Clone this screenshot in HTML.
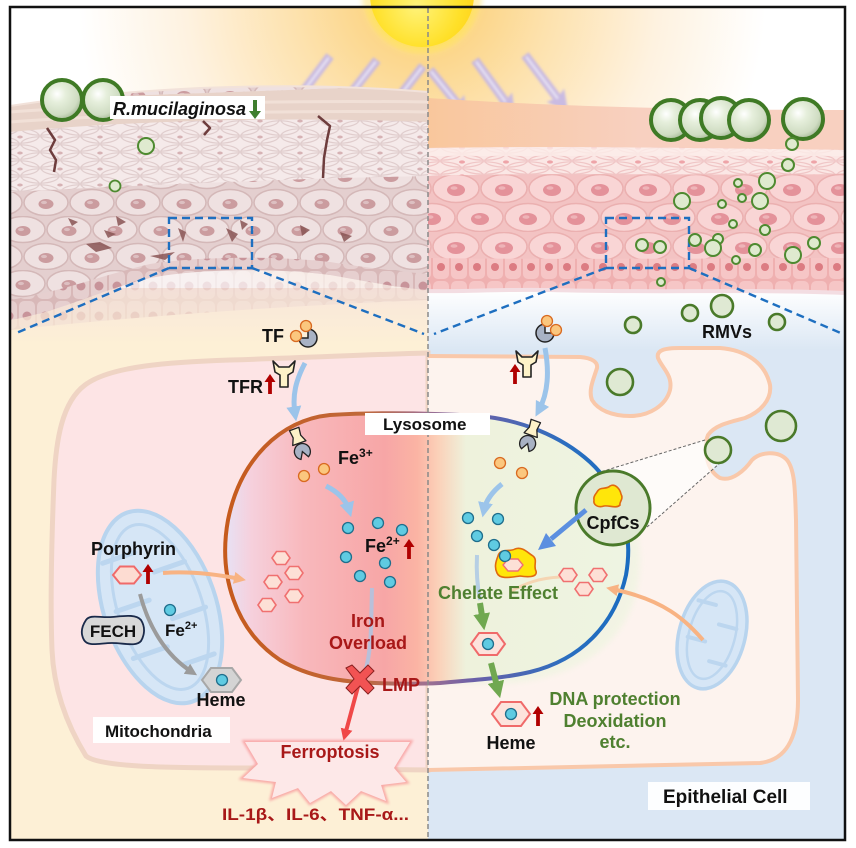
<!DOCTYPE html>
<html><head><meta charset="utf-8"><style>
html,body{margin:0;padding:0;background:#fff;}
svg{display:block;}
text{font-family:"Liberation Sans","Noto Sans CJK SC",sans-serif;font-weight:bold;}
</style></head><body>
<svg width="856" height="848" viewBox="0 0 856 848" xmlns="http://www.w3.org/2000/svg">
<defs>
<radialGradient id="glow" cx="422" cy="-5" r="430" gradientUnits="userSpaceOnUse">
<stop offset="0" stop-color="#ffd21e"/><stop offset="0.12" stop-color="#ffd93a"/><stop offset="0.14" stop-color="#fcd68a"/><stop offset="0.3" stop-color="#fde2ae"/><stop offset="0.55" stop-color="#fef2e0"/><stop offset="0.8" stop-color="#ffffff"/>
</radialGradient>
<radialGradient id="sun" cx="0.45" cy="0.6" r="0.6"><stop offset="0" stop-color="#fff37a"/><stop offset="0.7" stop-color="#ffe028"/><stop offset="1" stop-color="#ffd21a"/></radialGradient>
<radialGradient id="ball" cx="0.38" cy="0.35" r="0.7"><stop offset="0" stop-color="#ffffff"/><stop offset="0.3" stop-color="#e6efdc"/><stop offset="0.75" stop-color="#cfdcc2"/><stop offset="1" stop-color="#9fb390"/></radialGradient>
<linearGradient id="bandR" x1="428" y1="0" x2="640" y2="0" gradientUnits="userSpaceOnUse"><stop offset="0" stop-color="#f9c79c"/><stop offset="1" stop-color="#f8d0c0"/></linearGradient>
<linearGradient id="bgR" x1="0" y1="290" x2="0" y2="350" gradientUnits="userSpaceOnUse"><stop offset="0" stop-color="#ffffff"/><stop offset="1" stop-color="#dbe7f4"/></linearGradient>
<linearGradient id="bgL" x1="0" y1="290" x2="0" y2="345" gradientUnits="userSpaceOnUse"><stop offset="0" stop-color="#f8e6da"/><stop offset="1" stop-color="#fdf0d6"/></linearGradient>
<linearGradient id="lysoFill" x1="223" y1="0" x2="628" y2="0" gradientUnits="userSpaceOnUse">
<stop offset="0" stop-color="#e6e3f7"/><stop offset="0.07" stop-color="#f6d0dc"/><stop offset="0.2" stop-color="#f8b8bc"/><stop offset="0.4" stop-color="#f7a6a6"/><stop offset="0.48" stop-color="#fbb4a4"/><stop offset="0.53" stop-color="#fbd0b8"/><stop offset="0.6" stop-color="#eef2dc"/><stop offset="1" stop-color="#eef4e2"/>
</linearGradient>
<linearGradient id="lysoStroke" x1="223" y1="0" x2="628" y2="0" gradientUnits="userSpaceOnUse">
<stop offset="0" stop-color="#c65a1c"/><stop offset="0.35" stop-color="#c0683a"/><stop offset="0.5" stop-color="#a07090"/><stop offset="0.62" stop-color="#6a60a8"/><stop offset="0.85" stop-color="#2a6ec0"/><stop offset="1" stop-color="#1a6cc0"/>
</linearGradient>
<pattern id="pL1" width="40" height="16" patternUnits="userSpaceOnUse">
<rect width="40" height="16" fill="#f5eaea"/>
<g fill="none" stroke="#e0cdcd" stroke-width="1.2">
<ellipse cx="20" cy="8" rx="19" ry="7.2"/><ellipse cx="0" cy="0" rx="19" ry="7.2"/><ellipse cx="40" cy="0" rx="19" ry="7.2"/><ellipse cx="0" cy="16" rx="19" ry="7.2"/><ellipse cx="40" cy="16" rx="19" ry="7.2"/>
</g>
<ellipse cx="20" cy="9" rx="2.8" ry="1.5" fill="#d6b2b4"/>
</pattern>
<pattern id="pL2" width="46" height="54" patternUnits="userSpaceOnUse">
<rect width="46" height="54" fill="#e4cfcf"/>
<g fill="#efe1e1" stroke="#d4b8b8" stroke-width="1.5">
<ellipse cx="23" cy="13.5" rx="22" ry="13"/><ellipse cx="0" cy="40.5" rx="22" ry="13"/><ellipse cx="46" cy="40.5" rx="22" ry="13"/>
</g>
<g fill="#cb9c9f"><ellipse cx="23" cy="15" rx="7.5" ry="5"/><ellipse cx="0" cy="42" rx="7.5" ry="5"/><ellipse cx="46" cy="42" rx="7.5" ry="5"/></g>
<g fill="#ddbfc1"><ellipse cx="21" cy="13.5" rx="3" ry="1.6"/><ellipse cx="-2" cy="40.5" rx="3" ry="1.6"/><ellipse cx="44" cy="40.5" rx="3" ry="1.6"/></g>
</pattern>
<pattern id="pL3" width="18" height="30" patternUnits="userSpaceOnUse">
<rect width="18" height="30" fill="#d8b8b8"/><rect x="1" y="1" width="16" height="28" rx="5" fill="#e6cfcf"/><circle cx="9" cy="16" r="4.5" fill="#c8949a"/>
</pattern>
<pattern id="pR1" width="44" height="14" patternUnits="userSpaceOnUse">
<rect width="44" height="14" fill="#fbe7e5"/>
<g fill="none" stroke="#f0c6c6" stroke-width="1.2">
<ellipse cx="22" cy="7" rx="21" ry="6.2"/><ellipse cx="0" cy="0" rx="21" ry="6.2"/><ellipse cx="44" cy="0" rx="21" ry="6.2"/><ellipse cx="0" cy="14" rx="21" ry="6.2"/><ellipse cx="44" cy="14" rx="21" ry="6.2"/>
</g>
<ellipse cx="22" cy="8" rx="3" ry="1.6" fill="#eea4a8"/>
</pattern>
<pattern id="pR2" width="48" height="58" patternUnits="userSpaceOnUse">
<rect width="48" height="58" fill="#f3c3c3"/>
<g fill="#f9d5d5" stroke="#ebb0b0" stroke-width="1.5">
<ellipse cx="24" cy="14.5" rx="23" ry="14"/><ellipse cx="0" cy="43.5" rx="23" ry="14"/><ellipse cx="48" cy="43.5" rx="23" ry="14"/>
</g>
<g fill="#e4929a"><ellipse cx="24" cy="16" rx="9" ry="6"/><ellipse cx="0" cy="45" rx="9" ry="6"/><ellipse cx="48" cy="45" rx="9" ry="6"/></g>
<g fill="#eeb4b8"><ellipse cx="22" cy="14" rx="3.5" ry="1.8"/><ellipse cx="-2" cy="43" rx="3.5" ry="1.8"/><ellipse cx="46" cy="43" rx="3.5" ry="1.8"/></g>
</pattern>
<pattern id="pR3" width="18" height="28" patternUnits="userSpaceOnUse">
<rect width="18" height="28" fill="#efb0b0"/><rect x="1" y="1" width="16" height="26" rx="5" fill="#f6c6c6"/><circle cx="9" cy="15" r="4" fill="#dc7c82"/>
</pattern>
<clipPath id="clipL"><path d="M 10,106 C 60,98 120,92 200,88 C 300,84 380,88 428,92 L 428,290 C 400,288 370,282 330,275 C 280,268 200,268 150,278 C 100,290 60,312 10,320 Z"/></clipPath>
<clipPath id="clipLf"><path d="M 10,320 C 60,312 100,290 150,278 C 200,268 280,268 330,275 C 370,282 400,288 428,290 L 428,300 C 300,305 150,315 10,330 Z"/></clipPath>
<clipPath id="clipR"><path d="M 428,148 C 550,146 700,148 845,150 L 845,292 C 750,288 650,292 550,289 C 500,288 460,291 428,290 Z"/></clipPath>
<filter id="blur1" x="-20%" y="-20%" width="140%" height="140%"><feGaussianBlur stdDeviation="1.2"/></filter>
<filter id="blur3" x="-20%" y="-20%" width="140%" height="140%"><feGaussianBlur stdDeviation="3"/></filter>
<marker id="mB" viewBox="0 0 10 10" refX="5" refY="5" markerWidth="3" markerHeight="3" orient="auto"><path d="M0,0 L10,5 L0,10 Z" fill="#9cc4ea"/></marker>
<marker id="mO" viewBox="0 0 10 10" refX="5" refY="5" markerWidth="3" markerHeight="3" orient="auto"><path d="M0,0 L10,5 L0,10 Z" fill="#f8b383"/></marker>
<marker id="mG" viewBox="0 0 10 10" refX="5" refY="5" markerWidth="3" markerHeight="3" orient="auto"><path d="M0,0 L10,5 L0,10 Z" fill="#9b9b9b"/></marker>
<marker id="mGr" viewBox="0 0 10 10" refX="5" refY="5" markerWidth="2.8" markerHeight="2.8" orient="auto"><path d="M0,0 L10,5 L0,10 Z" fill="#70a850"/></marker>
<marker id="mR" viewBox="0 0 10 10" refX="5" refY="5" markerWidth="3" markerHeight="3" orient="auto"><path d="M0,0 L10,5 L0,10 Z" fill="#f04848"/></marker>
<circle id="fe" r="5.5" fill="#5fcbe2" stroke="#1f6e8c" stroke-width="1.3"/>
<circle id="fo" r="5.5" fill="#fbc77e" stroke="#d96a20" stroke-width="1.3"/>
<polygon id="hx" points="-9,0 -4.5,-6.5 4.5,-6.5 9,0 4.5,6.5 -4.5,6.5" fill="#fde0d6" stroke="#f07070" stroke-width="1.6"/>
<path id="ra" d="M -1.9,0 L -1.9,-12 L -5.5,-12 L 0,-20 L 5.5,-12 L 1.9,-12 L 1.9,0 Z" fill="#b00000"/>
<path id="tfr" d="M 0,1 L 6,7 L 16,7 L 22,1 L 20,12 L 15,15 L 15,27 L 7,27 L 7,15 L 2,12 Z" fill="#fdf2c8" stroke="#222" stroke-width="1.6" stroke-linejoin="round"/>
<g id="rec">
<path d="M -5,-17 L 5,-17 L 4,-9 L 7,-2 L -7,-2 L -4,-9 Z" fill="#fdf2c8" stroke="#222" stroke-width="1.3" stroke-linejoin="round"/>
<path d="M 0,7 L 4,13.9 A 8 8 0 1 0 -4,13.9 Z" fill="#a8b2c4" stroke="#222" stroke-width="1.3"/>
</g>
<g id="arw"><path d="M -4.5,0 L 4.5,0 L 4.5,50 L 11,48 L 0,68 L -11,48 L -4.5,50 Z" fill="#c3b6e6" opacity="0.9"/><path d="M 0,2 L 0,52" stroke="#ece8f7" stroke-width="2"/></g>
</defs>

<!-- sky / glow -->
<rect x="0" y="0" width="856" height="848" fill="#fff"/>
<rect x="10" y="7" width="835" height="300" fill="url(#glow)"/>
<circle cx="422" cy="-5" r="60" fill="#ffe680" opacity="0.6" filter="url(#blur3)"/>
<circle cx="422" cy="-5" r="52" fill="url(#sun)"/>

<!-- lower backgrounds -->
<rect x="10" y="288" width="418" height="552" fill="url(#bgL)"/>
<rect x="428" y="288" width="417" height="552" fill="url(#bgR)"/>

<!-- sun arrows -->
<g filter="url(#blur1)">
<use href="#arw" transform="translate(330,56) rotate(37) scale(1,1.1)"/>
<use href="#arw" transform="translate(377,60) rotate(38)"/>
<use href="#arw" transform="translate(423,66) rotate(38) scale(1,0.92)"/>
<use href="#arw" transform="translate(430,70) rotate(-39) scale(1,0.85)"/>
<use href="#arw" transform="translate(475,60) rotate(-36)"/>
<use href="#arw" transform="translate(525,55) rotate(-37) scale(1,1.05)"/>
</g>

<!-- LEFT SKIN faded underside -->
<g clip-path="url(#clipLf)" opacity="0.3"><rect x="10" y="260" width="418" height="80" fill="url(#pL3)"/></g>
<!-- LEFT SKIN -->
<g clip-path="url(#clipL)">
<rect x="10" y="80" width="418" height="240" fill="url(#pL2)"/>
<path d="M 10,100 L 428,85 L 428,176 C 330,178 200,182 10,192 Z" fill="url(#pL1)"/>
<path d="M 10,100 L 428,85 L 428,122 C 300,117 150,119 10,132 Z" fill="#e8d3c9"/>
<path d="M 10,112 C 120,104 280,100 428,102 M 10,122 C 120,114 280,110 428,112" stroke="#f1e0d7" stroke-width="3" fill="none"/>
<path d="M 10,300 C 60,292 100,276 150,264 C 200,256 280,256 330,262 C 370,268 400,272 428,274 L 428,300 L 10,330 Z" fill="url(#pL3)"/>
</g>
<path d="M 10,106 C 60,98 120,92 200,88 C 300,84 380,88 428,92" stroke="#f2e2da" stroke-width="2" fill="none"/>
<!-- cracks -->
<g fill="none" stroke="#6e3d3d" stroke-width="2.5" stroke-linejoin="round">
<path d="M 47,128 L 55,140 L 50,150 L 56,160 L 54,172"/>
<path d="M 203,121 L 210,128 L 204,135"/>
<path d="M 318,116 L 330,126 L 327,140 L 324,158 L 323,178"/>
</g>
<g fill="#8a5555" opacity="0.85">
<path d="M 86,244 L 100,242 L 112,248 L 96,252 Z"/><path d="M 104,230 L 116,234 L 108,238 Z"/><path d="M 68,218 L 78,222 L 72,226 Z"/><path d="M 116,216 L 126,222 L 118,226 Z"/>
<path d="M 178,228 L 186,232 L 183,242 Z"/><path d="M 226,228 L 238,234 L 232,242 Z"/><path d="M 240,220 L 248,224 L 242,230 Z"/>
<path d="M 150,256 L 175,252 L 165,260 Z"/><path d="M 300,225 L 310,230 L 302,236 Z"/><path d="M 340,232 L 352,236 L 344,242 Z"/>
</g>

<!-- RIGHT SKIN -->
<path d="M 428,98 C 520,104 650,110 845,110 L 845,152 L 428,150 Z" fill="url(#bandR)"/>
<g clip-path="url(#clipR)">
<rect x="428" y="140" width="417" height="160" fill="url(#pR2)"/>
<path d="M 428,145 L 845,145 L 845,174 C 700,176 550,172 428,176 Z" fill="url(#pR1)"/>
<path d="M 428,145 L 845,145 L 845,156 L 428,156 Z" fill="#fdeeea" opacity="0.8"/>
<path d="M 428,258 C 600,260 700,258 845,258 L 845,300 L 428,300 Z" fill="url(#pR3)"/>
</g>
<path d="M 428,291 C 460,292 500,289 550,290 C 650,293 750,289 845,293" stroke="#f3dde2" stroke-width="4" fill="none"/>

<!-- dashed zoom boxes -->
<g fill="none" stroke="#1e6fc0" stroke-width="2.4" stroke-dasharray="8,5">
<rect x="169" y="218" width="83" height="50"/>
<rect x="606" y="218" width="83" height="50"/>
<path d="M 169,268 L 14,334"/><path d="M 252,268 L 424,334"/>
<path d="M 606,268 L 434,334"/><path d="M 689,268 L 843,334"/>
</g>

<!-- bacteria top left -->
<circle cx="62" cy="100" r="20" fill="url(#ball)" stroke="#3f7a25" stroke-width="4"/>
<circle cx="103" cy="100" r="20" fill="url(#ball)" stroke="#3f7a25" stroke-width="4"/>
<rect x="110" y="96" width="155" height="23" fill="#fff"/>
<text x="113" y="115" font-size="18" font-style="italic" fill="#111">R.mucilaginosa</text>
<path d="M 253,100 L 253,111 L 249,111 L 255,119 L 261,111 L 257,111 L 257,100 Z" fill="#3f7e2e"/>
<circle cx="146" cy="146" r="8" fill="#dfeacf" stroke="#4e8a30" stroke-width="2"/>
<circle cx="115" cy="186" r="5.5" fill="#dfeacf" stroke="#4e8a30" stroke-width="1.8"/>

<!-- bacteria top right -->
<g stroke="#3f7a25" stroke-width="4" fill="url(#ball)">
<circle cx="671" cy="120" r="20"/><circle cx="700" cy="120" r="20"/><circle cx="721" cy="118" r="20"/><circle cx="749" cy="120" r="20"/><circle cx="803" cy="119" r="20"/>
</g>
<g fill="#dfeacf" stroke="#4e8a30" stroke-width="2">
<circle cx="792" cy="144" r="6"/><circle cx="788" cy="165" r="6"/><circle cx="767" cy="181" r="8"/><circle cx="738" cy="183" r="4"/><circle cx="742" cy="198" r="4"/><circle cx="760" cy="201" r="8"/><circle cx="722" cy="204" r="4"/><circle cx="682" cy="201" r="8"/><circle cx="733" cy="224" r="4"/><circle cx="765" cy="230" r="5"/><circle cx="718" cy="239" r="5"/><circle cx="695" cy="240" r="6"/><circle cx="642" cy="245" r="6"/><circle cx="660" cy="247" r="6"/><circle cx="713" cy="248" r="8"/><circle cx="755" cy="250" r="6"/><circle cx="793" cy="255" r="8"/><circle cx="814" cy="243" r="6"/><circle cx="736" cy="260" r="4"/><circle cx="661" cy="282" r="4"/>
</g>

<!-- LEFT CELL -->
<path d="M 428,353 C 380,354 300,358 230,360 C 170,362 110,366 85,385 C 62,402 56,440 54,480 C 52,530 50,600 52,650 C 54,695 70,730 86,756 C 100,768 180,768 260,768 L 428,770 Z" fill="#fde4e5" stroke="#efd4c4" stroke-width="5"/>

<!-- RIGHT CELL -->
<path d="M 428,356 L 580,357 C 592,358 598,362 597,368 C 594,378 588,390 592,400 C 598,410 612,416 630,416 C 650,416 666,405 670,390 C 673,375 662,368 658,358 C 656,350 665,348 680,348 L 720,348 C 745,350 765,362 770,385 C 772,400 760,412 745,418 C 730,422 715,425 708,435 C 703,448 706,470 720,478 C 732,482 745,470 752,460 C 760,452 778,450 787,460 C 795,470 795,490 796,520 L 798,700 C 798,740 785,760 760,763 L 428,770" fill="#fdf3ee" stroke="#f9c8aa" stroke-width="4"/>

<!-- vesicles -->
<g fill="#dfe9d3" stroke="#4a7a2a" stroke-width="2.6">
<circle cx="633" cy="325" r="8"/><circle cx="690" cy="313" r="8"/><circle cx="722" cy="306" r="11"/><circle cx="777" cy="322" r="8"/>
<circle cx="620" cy="382" r="13"/><circle cx="781" cy="426" r="15"/>
</g>
<text x="702" y="338" font-size="18" fill="#111">RMVs</text>

<!-- LEFT MITOCHONDRIA -->
<g transform="translate(160,607) rotate(-19)">
<ellipse rx="56" ry="100" fill="#d6e6f6" stroke="#b8d4ee" stroke-width="4"/>
<ellipse rx="42" ry="86" fill="none" stroke="#bcd6ef" stroke-width="3"/>
<path d="M -40,-60 L -6,-60 M 38,-35 L 6,-35 M -43,-10 L -8,-10 M 43,15 L 8,15 M -42,40 L -6,40 M 36,62 L 4,62" stroke="#bcd6ef" stroke-width="5" stroke-linecap="round" fill="none"/>
</g>

<!-- RIGHT MITOCHONDRIA -->
<g transform="translate(712,635) rotate(15)">
<ellipse rx="33" ry="55" fill="#d6e6f6" stroke="#b8d4ee" stroke-width="3.5"/>
<ellipse rx="23" ry="45" fill="none" stroke="#bcd6ef" stroke-width="2.5"/>
<path d="M -22,-30 L -4,-30 M 22,-12 L 4,-12 M -23,8 L -5,8 M 21,26 L 4,26" stroke="#bcd6ef" stroke-width="4" stroke-linecap="round" fill="none"/>
</g>

<!-- LYSOSOME -->
<path d="M 470,425 C 560,432 640,470 640,560 C 640,640 580,680 500,684 L 440,684 L 440,425 Z" fill="#eef4e0" opacity="0.7" filter="url(#blur3)"/>
<path d="M 330,415 C 280,420 240,460 228,520 C 218,575 235,630 280,660 C 310,678 345,682 375,683 C 400,684 420,684 440,683 C 470,680 500,679 530,672 C 580,660 615,625 626,575 C 634,530 620,490 590,462 C 560,435 520,420 480,416 C 430,413 380,412 330,415 Z" fill="url(#lysoFill)" stroke="url(#lysoStroke)" stroke-width="4"/>

<!-- vertical dashed divider -->
<path d="M 428,8 L 428,839" stroke="#8a8a8a" stroke-width="1.5" stroke-dasharray="5,3"/>

<!-- Lysosome label -->
<rect x="365" y="413" width="125" height="22" fill="#fff"/>
<text x="383" y="430" font-size="17" fill="#111">Lysosome</text>

<!-- LEFT top: TF / TFR -->
<text x="262" y="342" font-size="18" fill="#111">TF</text>
<path d="M 308,338 L 299,338 A 9 9 0 1 0 308,329 Z" fill="#a8b2c4" stroke="#222" stroke-width="1.5"/>
<use href="#fo" x="306" y="326"/>
<use href="#fo" x="296" y="336"/>
<use href="#tfr" transform="translate(273,360)"/>
<text x="228" y="393" font-size="18" fill="#111">TFR</text>
<use href="#ra" x="270" y="394"/>
<path d="M 305,363 C 296,380 292,395 295,414" stroke="#9cc4ea" stroke-width="5" fill="none" marker-end="url(#mB)"/>

<!-- left lysosome content -->
<use href="#rec" transform="translate(300,445) rotate(-20)"/>
<text x="338" y="464" font-size="18" fill="#111">Fe<tspan font-size="12" dy="-7">3+</tspan></text>
<use href="#fo" x="304" y="476"/><use href="#fo" x="324" y="469"/>
<path d="M 326,486 C 338,492 346,500 349,510" stroke="#9cc4ea" stroke-width="5" fill="none" marker-end="url(#mB)"/>
<use href="#fe" x="348" y="528"/><use href="#fe" x="378" y="523"/><use href="#fe" x="402" y="530"/><use href="#fe" x="346" y="557"/><use href="#fe" x="385" y="563"/><use href="#fe" x="360" y="576"/><use href="#fe" x="390" y="582"/>
<text x="365" y="552" font-size="18" fill="#111">Fe<tspan font-size="12" dy="-7">2+</tspan></text>
<use href="#ra" x="409" y="559"/>
<use href="#hx" x="281" y="558"/><use href="#hx" x="294" y="573"/><use href="#hx" x="273" y="582"/><use href="#hx" x="294" y="596"/><use href="#hx" x="267" y="605"/>
<path d="M 372,588 C 371,620 372,650 365,672" stroke="#a8c6e6" stroke-width="4" fill="none" opacity="0.8"/>
<text x="368" y="627" font-size="18" fill="#a81818" text-anchor="middle">Iron</text>
<text x="368" y="649" font-size="18" fill="#a81818" text-anchor="middle">Overload</text>
<path d="M 359,683 L 345,735" stroke="#f04848" stroke-width="4" fill="none" marker-end="url(#mR)"/>
<path d="M 346,668 L 352,665 L 360,673 L 368,665 L 374,671 L 366,679 L 374,688 L 368,694 L 360,686 L 352,694 L 346,688 L 354,679 Z" fill="#f25353" stroke="#8a2020" stroke-width="1"/>
<text x="382" y="691" font-size="18" fill="#a81818">LMP</text>

<!-- ferroptosis burst -->
<path d="M 245,742 L 410,742 L 394,768 L 406,782 L 381,785 L 386,801 L 361,791 L 346,805 L 331,791 L 310,803 L 298,788 L 272,798 L 276,782 L 243,778 L 258,764 Z" fill="#fde6e6" stroke="#f8a0a0" stroke-width="4" opacity="0.9" filter="url(#blur1)"/>
<path d="M 245,742 L 410,742 L 394,768 L 406,782 L 381,785 L 386,801 L 361,791 L 346,805 L 331,791 L 310,803 L 298,788 L 272,798 L 276,782 L 243,778 L 258,764 Z" fill="#fde8e8"/>
<text x="330" y="758" font-size="18" fill="#a81818" text-anchor="middle">Ferroptosis</text>
<text x="222" y="820" font-size="17" fill="#a81818" textLength="187" lengthAdjust="spacingAndGlyphs">IL-1β、IL-6、TNF-α...</text>

<!-- left mitochondria content -->
<text x="91" y="555" font-size="18" fill="#111">Porphyrin</text>
<polygon points="113,575 120,566.5 134,566.5 141,575 134,583.5 120,583.5" fill="#fddcd2" stroke="#f06a6a" stroke-width="2"/>
<use href="#ra" x="148" y="584"/>
<path d="M 163,573 C 190,571 215,574 240,579" stroke="#f8b383" stroke-width="4" fill="none" marker-end="url(#mO)"/>
<path d="M 140,594 C 148,625 165,655 192,672" stroke="#9b9b9b" stroke-width="4" fill="none" marker-end="url(#mG)"/>
<use href="#fe" x="170" y="610"/>
<text x="165" y="636" font-size="17" fill="#111">Fe<tspan font-size="11" dy="-7">2+</tspan></text>
<path d="M 86,620 C 90,614 100,618 112,617 C 124,616 136,614 141,620 C 146,628 144,636 141,641 C 136,647 124,643 112,643 C 100,643 88,647 84,640 C 80,633 82,626 86,620 Z" fill="#d8d8d8" stroke="#1a2a4a" stroke-width="1.8"/>
<text x="113" y="637" font-size="17" fill="#111" text-anchor="middle">FECH</text>
<polygon points="202,680 211,668 232,668 241,680 232,692 211,692" fill="#d4d4d4" stroke="#a8a8a8" stroke-width="2"/>
<use href="#fe" x="222" y="680"/>
<text x="221" y="706" font-size="18" fill="#111" text-anchor="middle">Heme</text>
<rect x="93" y="717" width="137" height="26" fill="#fff" opacity="0.95"/>
<text x="105" y="737" font-size="17" fill="#111">Mitochondria</text>

<!-- RIGHT top: TF / TFR -->
<path d="M 545,333 L 545,324 A 9 9 0 1 0 554,333 Z" fill="#a8b2c4" stroke="#222" stroke-width="1.5"/>
<use href="#fo" x="547" y="321"/><use href="#fo" x="556" y="330"/>
<use href="#tfr" transform="translate(516,350)"/>
<use href="#ra" x="515" y="384"/>
<path d="M 545,348 C 550,375 547,395 539,410" stroke="#9cc4ea" stroke-width="5" fill="none" marker-end="url(#mB)"/>

<!-- right lysosome content -->
<use href="#rec" transform="translate(530,437) rotate(20)"/>
<use href="#fo" x="500" y="463"/><use href="#fo" x="522" y="473"/>
<path d="M 502,484 C 492,492 486,500 484,510" stroke="#9cc4ea" stroke-width="5" fill="none" marker-end="url(#mB)"/>
<use href="#fe" x="468" y="518"/><use href="#fe" x="498" y="519"/><use href="#fe" x="477" y="536"/><use href="#fe" x="494" y="545"/>
<path d="M 477,555 C 476,575 478,590 480,600" stroke="#a8c6e6" stroke-width="4" fill="none" opacity="0.8"/>
<path d="M 498,556 C 500,548 510,552 515,549 C 522,546 528,553 533,556 C 538,560 533,566 536,571 C 538,578 526,577 520,576 C 512,577 500,580 497,573 C 494,567 496,561 498,556 Z" fill="#ffe60a" stroke="#e06a10" stroke-width="1.6"/>
<polygon points="503,565 508,559 518,559 523,565 518,571 508,571" fill="#fde0d6" stroke="#f07070" stroke-width="1.4"/>
<use href="#fe" x="505" y="556"/>
<path d="M 560,577 C 540,578 525,583 510,592" stroke="#f8c8a0" stroke-width="3" fill="none" opacity="0.7"/>
<use href="#hx" x="568" y="575"/><use href="#hx" x="598" y="575"/><use href="#hx" x="584" y="589"/>
<path d="M 703,640 C 685,620 665,600 612,589" stroke="#f8b383" stroke-width="4" fill="none" marker-end="url(#mO)"/>
<text x="438" y="599" font-size="18" fill="#4f8030">Chelate Effect</text>
<path d="M 480,603 L 483,622" stroke="#70a850" stroke-width="6" fill="none" marker-end="url(#mGr)"/>
<polygon points="471,644 479,633 497,633 505,644 497,655 479,655" fill="#fde3dc" stroke="#f06a6a" stroke-width="2"/>
<use href="#fe" x="488" y="644"/>
<path d="M 491,663 L 498,690" stroke="#70a850" stroke-width="6" fill="none" marker-end="url(#mGr)"/>
<polygon points="492,714 501,702 521,702 530,714 521,726 501,726" fill="#fde3dc" stroke="#f06a6a" stroke-width="2"/>
<use href="#fe" x="511" y="714"/>
<use href="#ra" x="538" y="726"/>
<text x="511" y="749" font-size="18" fill="#111" text-anchor="middle">Heme</text>
<text x="615" y="705" font-size="18" fill="#4f8030" text-anchor="middle">DNA protection</text>
<text x="615" y="727" font-size="18" fill="#4f8030" text-anchor="middle">Deoxidation</text>
<text x="615" y="748" font-size="18" fill="#4f8030" text-anchor="middle">etc.</text>

<!-- zoom cone from vesicle to CpfCs -->
<polygon points="597,473 705,440 720,463 647,527" fill="#ffffff" opacity="0.65"/>
<path d="M 597,473 L 705,440 M 647,527 L 720,463" stroke="#666" stroke-width="1" stroke-dasharray="3,2"/>
<circle cx="718" cy="450" r="13" fill="#dfe9d3" stroke="#4a7a2a" stroke-width="2.6"/>

<!-- CpfCs -->
<circle cx="613" cy="508" r="37" fill="#dfe8d2" stroke="#4a7a2a" stroke-width="3"/>
<path d="M 597,492 C 600,486 606,490 610,486 C 615,483 620,489 621,494 C 624,499 619,502 620,505 C 616,509 609,505 604,506 C 598,508 593,505 594,500 C 593,496 596,494 597,492 Z" fill="#ffe60a" stroke="#e06a10" stroke-width="1.6"/>
<text x="613" y="529" font-size="18" fill="#111" text-anchor="middle">CpfCs</text>
<path d="M 586,510 L 551,539" stroke="#5b8fe0" stroke-width="5"/>
<polygon points="538,550 556,546 546,533" fill="#5b8fe0"/>

<!-- Epithelial label -->
<rect x="648" y="782" width="162" height="28" fill="#fff" opacity="0.95"/>
<text x="663" y="803" font-size="19" fill="#111">Epithelial Cell</text>

<!-- frame -->
<rect x="10" y="7" width="835" height="833" fill="none" stroke="#111" stroke-width="2.5"/>
</svg>
</body></html>
